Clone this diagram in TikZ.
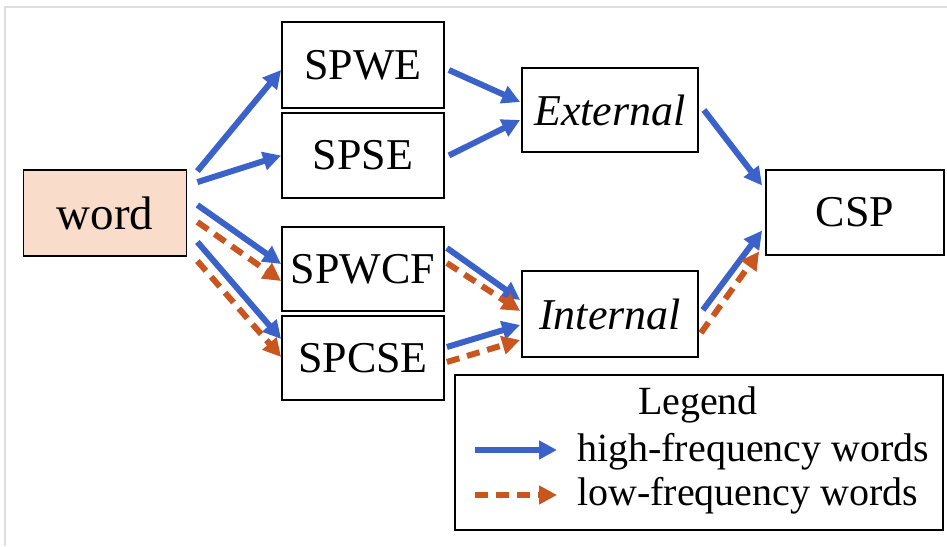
\documentclass[tikz,border=0pt]{standalone}
\usepackage{fontspec}
\setmainfont{Liberation Serif}
\usetikzlibrary{arrows.meta,calc}
\definecolor{hiblue}{HTML}{3A62C9}
\definecolor{lored}{HTML}{C9561F}
\definecolor{wordfill}{HTML}{F9DCC9}
\definecolor{framegray}{HTML}{DEDEDE}

\begin{document}
\begin{tikzpicture}[x=1pt,y=-1pt,
  box/.style={draw, line width=1.8pt, rectangle, inner sep=0pt,
    font=\fontsize{44}{50}\selectfont},
  legtext/.style={inner sep=0pt, font=\fontsize{40}{46}\selectfont},
  tip/.style={-{Triangle[length=18pt,width=18pt]}},
  hi/.style={draw=hiblue, line width=6pt, tip},
  lo/.style={draw=lored, line width=6pt, dash pattern=on 13pt off 8pt, tip},
]
\useasboundingbox (0,0) rectangle (947,546);
\fill[white] (0,0) rectangle (947,546);
\draw[framegray, line width=1.2pt] (5,546) -- (5,7) -- (947,7);

% nodes
\node[box, fill=wordfill, minimum width=163pt, minimum height=86pt,
  font=\fontsize{47}{52}\selectfont] (word) at (105,213) {word};
\node[box, minimum width=162pt, minimum height=86pt] (spwe) at (363,65) {SPWE};
\node[box, minimum width=162pt, minimum height=85pt] (spse) at (363,155.5) {SPSE};
\node[box, minimum width=162pt, minimum height=84pt] (spwcf) at (363,269) {SPWCF};
\node[box, minimum width=162pt, minimum height=84pt] (spcse) at (363,358) {SPCSE};
\node[box, minimum width=176pt, minimum height=84pt] (ext) at (610,110) {\itshape External};
\node[box, minimum width=176pt, minimum height=86pt] (int) at (610,314) {\itshape Internal};
\node[box, minimum width=178pt, minimum height=85pt] (csp) at (855,212.5) {CSP};

% word -> first-level embeddings
\draw[hi] ($(word.north east)+(10,2)$) -- ($(spwe.west)+(0,5)$);
\draw[hi] ($(word.north east)+(10,13)$) -- ($(spse.west)+(0,0)$);
\draw[hi] ($(word.east)+(10,-8)$) -- ($(spwcf.west)+(0,-5)$);
\draw[lo] ($(word.east)+(10,9)$) -- ($(spwcf.west)+(0,12)$);
\draw[hi] ($(word.east)+(10,29)$) -- ($(spcse.west)+(0,-19)$);
\draw[lo] ($(word.east)+(10,48)$) -- ($(spcse.west)+(0,-1)$);

% embeddings -> External / Internal
\draw[hi] ($(spwe.east)+(4,5)$) -- ($(ext.west)+(-1,-8)$);
\draw[hi] ($(spse.east)+(4,0)$) -- ($(ext.west)+(-1,10)$);
\draw[hi] ($(spwcf.east)+(2,-21)$) -- ($(int.west)+(-1,-14)$);
\draw[lo] ($(spwcf.east)+(2,-6)$) -- ($(int.west)+(-1,-3)$);
\draw[hi] ($(spcse.east)+(2,-11)$) -- ($(int.west)+(-1,11)$);
\draw[lo] ($(spcse.east)+(2,4)$) -- ($(int.west)+(-1,26)$);

% External / Internal -> CSP
\draw[hi] ($(ext.east)+(5,0)$) -- ($(csp.west)+(-3,-27)$);
\draw[hi] ($(int.east)+(4,-4)$) -- ($(csp.west)+(-3,18)$);
\draw[lo] ($(int.east)+(2,19)$) -- ($(csp.west)+(-6,39)$);

% legend
\node[draw, line width=1.8pt, minimum width=488pt, minimum height=155pt] (legend) at (699,452.5) {};
\node[legtext] (legtitle) at (698,405) {Legend};
\node[legtext, anchor=west] (leghi) at (577,452) {high-frequency words};
\node[legtext, anchor=west] (leglo) at (577,496) {low-frequency words};
\coordinate (hia) at (475,450);
\coordinate (hib) at (557,450);
\coordinate (loa) at (475,495);
\coordinate (lob) at (557,495);
\draw[hi] (hia) -- (hib);
\draw[lo] (loa) -- (lob);
\end{tikzpicture}
\end{document}
